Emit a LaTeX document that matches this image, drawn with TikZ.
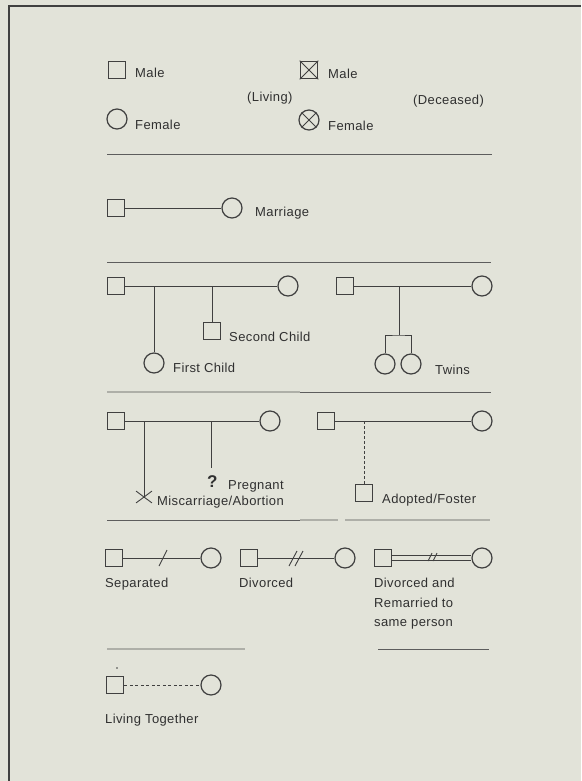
\documentclass[tikz,border=0pt]{standalone}
\usepackage{fontspec}
\setmainfont{Liberation Sans}[LetterSpace=3]
\usetikzlibrary{shapes.misc}
\definecolor{paper}{HTML}{E2E3D9}
\definecolor{ink}{HTML}{404040}
\definecolor{textink}{HTML}{303030}
\definecolor{faint}{HTML}{AEAFA8}

\begin{document}
\begin{tikzpicture}[x=1pt,y=-1pt,
  male/.style={draw=ink, line width=1.2pt, rectangle, minimum size=17.5pt, inner sep=0pt},
  female/.style={draw=ink, line width=1.2pt, circle, minimum size=20pt, inner sep=0pt},
  link/.style={draw=ink, line width=0.9pt},
  rule/.style={draw=ink!85, line width=0.9pt},
  faintrule/.style={draw=faint, line width=1.2pt},
  lbl/.style={anchor=base west, inner sep=0pt, text=textink, font=\fontsize{13}{15}\selectfont},
]
% page and frame
\fill[paper] (0,0) rectangle (581,781);
\useasboundingbox (0,0) rectangle (581,781);
\draw[ink, line width=1.4pt] (9,781) -- (9,6) -- (581,6);

% ---- symbols: living / deceased
\node[male] (lm) at (117,70) {};
\node[lbl] (lmt) at (135,78) {Male};
\node[female] (lf) at (117,119) {};
\node[lbl] (lft) at (135,129) {Female};
\node[lbl] (liv) at (247,102) {(Living)};

\node[male] (dm) at (309,70) {};
\draw[link] (dm.north west) -- (dm.south east) (dm.north east) -- (dm.south west);
\node[lbl] (dmt) at (328,79) {Male};
\node[female] (df) at (309,120) {};
\draw[link] (df.north west) -- (df.south east) (df.north east) -- (df.south west);
\node[lbl] (dft) at (328,130) {Female};
\node[lbl] (dec) at (413,105) {(Deceased)};

\draw[rule] (107,154) -- (492,154);

% ---- marriage
\node[male] (mh) at (116,208) {};
\node[female] (mw) at (232,208) {};
\draw[link] (mh) -- (mw);
\node[lbl] (mt) at (255,216) {Marriage};

\draw[rule] (107,262) -- (491,262);

% ---- children
\node[male] (f1) at (116,286) {};
\node[female] (m1) at (288,286) {};
\draw[link] (f1) -- (m1);
\coordinate (c1a) at (154,286);
\coordinate (c1b) at (212,286);
\node[female] (ch1) at (154,363) {};
\node[male] (ch2) at (212,331) {};
\draw[link] (c1a) -- (ch1);
\draw[link] (c1b) -- (ch2);
\node[lbl] (ch2t) at (229,341) {Second Child};
\node[lbl] (ch1t) at (173,372) {First Child};

\node[male] (f2) at (345,286) {};
\node[female] (m2) at (482,286) {};
\draw[link] (f2) -- (m2);
\coordinate (c2) at (399,286);
\coordinate (tw) at (399,335);
\node[female] (t1) at (385,364) {};
\node[female] (t2) at (411,364) {};
\draw[link] (c2) -- (tw);
\draw[link] (t1.north) |- (tw) -| (t2.north);
\node[lbl] (twt) at (435,374) {Twins};

\draw[faintrule] (107,392) -- (300,392);
\draw[rule] (300,392) -- (491,392);

% ---- pregnancy, loss, adoption
\node[male] (f3) at (116,421) {};
\node[female] (m3) at (270,421) {};
\draw[link] (f3) -- (m3);
\coordinate (c3a) at (144,421);
\coordinate (c3b) at (211,421);
\node[cross out, draw=ink, line width=0.9pt, minimum width=15pt, minimum height=11pt, inner sep=0pt] (mis) at (144,497) {};
\draw[link] (c3a) -- (mis.center);
\coordinate (pe) at (211,468);
\draw[link] (c3b) -- (pe);
\node[lbl, font=\fontsize{17}{19}\selectfont\bfseries] (q) at (207,487) {?};
\node[lbl] (pt) at (228,489) {Pregnant};
\node[lbl] (mist) at (157,505) {Miscarriage/Abortion};

\node[male] (f4) at (326,421) {};
\node[female] (m4) at (482,421) {};
\draw[link] (f4) -- (m4);
\coordinate (c4) at (364,421);
\node[male] (ad) at (364,493) {};
\draw[link, dash pattern=on 3pt off 2pt] (c4) -- (ad);
\node[lbl] (adt) at (382,503) {Adopted/Foster};

\draw[rule] (107,520) -- (300,520);
\draw[faintrule] (300,520) -- (338,520);
\draw[faintrule] (345,520) -- (490,520);

% ---- separation and divorce
\node[male] (sm) at (114,558) {};
\node[female] (sf) at (211,558) {};
\draw[link] (sm) -- (sf);
\coordinate (sx) at (163,558);
\draw[link] ([shift={(-4,8)}]sx) -- ([shift={(4,-8)}]sx);
\node[lbl] (st) at (105,587) {Separated};

\node[male] (vm) at (249,558) {};
\node[female] (vf) at (345,558) {};
\draw[link] (vm) -- (vf);
\coordinate (vx) at (296,558);
\draw[link] ([shift={(-7,8)}]vx) -- ([shift={(1,-7)}]vx)
            ([shift={(-1,8)}]vx) -- ([shift={(7,-7)}]vx);
\node[lbl] (vt) at (239,587) {Divorced};

\node[male] (rm) at (383,558) {};
\node[female] (rf) at (482,558) {};
\draw[link, double=paper, double distance=4pt, line width=0.8pt] (rm) -- (rf);
\coordinate (rx) at (433,557);
\draw[link] ([shift={(-5,4)}]rx) -- ([shift={(-1,-4)}]rx)
            ([shift={(0,4)}]rx) -- ([shift={(4,-4)}]rx);
\node[lbl] (rt1) at (374,587) {Divorced and};
\node[lbl] (rt2) at (374,607) {Remarried to};
\node[lbl] (rt3) at (374,626) {same person};

\draw[faintrule] (107,649) -- (245,649);
\draw[rule] (378,649) -- (489,649);

% ---- cohabitation
\fill[ink] (117,668) circle (0.9pt);
\node[male] (lt1) at (115,685) {};
\node[female] (lt2) at (211,685) {};
\draw[link, dash pattern=on 3pt off 2.5pt] (lt1) -- (lt2);
\node[lbl] (ltt) at (105,723) {Living Together};
\end{tikzpicture}
\end{document}
